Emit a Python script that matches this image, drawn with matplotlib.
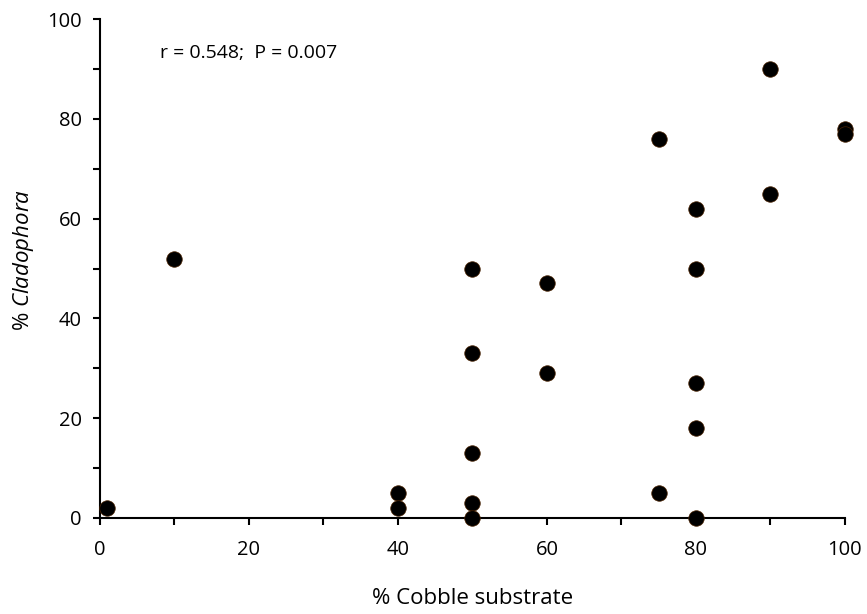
import matplotlib
matplotlib.use("Agg")
import matplotlib.pyplot as plt
from matplotlib.ticker import MultipleLocator

plt.rcParams['font.family'] = ['Open Sans', 'DejaVu Sans']
plt.rcParams['mathtext.fontset'] = 'custom'
plt.rcParams['mathtext.it'] = 'Open Sans:italic'
plt.rcParams['mathtext.rm'] = 'Open Sans'

# % cobble substrate vs % Cladophora cover
cobble = [1, 10, 40, 40, 50, 50, 50, 50, 50, 60, 60, 75, 75,
          80, 80, 80, 80, 80, 90, 90, 100, 100]
cladophora = [2, 52, 5, 2, 50, 33, 13, 3, 0, 47, 29, 76, 5,
              62, 50, 27, 18, 0, 90, 65, 78, 77]
stats_text = "r = 0.548;  P = 0.007"

fig = plt.figure(figsize=(8.67, 6.14), dpi=100)
ax = fig.add_axes([0.1153, 0.1564, 0.8593, 0.8126])

ax.scatter(cobble, cladophora, s=125, color='black', edgecolors='#4a2200',
           linewidths=0.5, zorder=3, clip_on=False)

ax.set_xlim(0, 100)
ax.set_ylim(0, 100)
ax.xaxis.set_major_locator(MultipleLocator(20))
ax.xaxis.set_minor_locator(MultipleLocator(10))
ax.yaxis.set_major_locator(MultipleLocator(20))
ax.yaxis.set_minor_locator(MultipleLocator(10))
ax.tick_params(which='both', direction='out', length=5, width=1.5, color='black')
ax.tick_params(axis='both', labelsize=14.5)
ax.tick_params(axis='x', pad=11)
ax.tick_params(axis='y', pad=8)

for side in ['top', 'right']:
    ax.spines[side].set_visible(False)
for side in ['left', 'bottom']:
    ax.spines[side].set_linewidth(1.5)

ax.set_xlabel('% Cobble substrate', fontsize=16, labelpad=20)
ax.set_ylabel(r'% $\it{Cladophora}$', fontsize=16, va='center')
ax.yaxis.set_label_coords(-0.103, 0.517)

ax.text(8.0, 93.2, stats_text, fontsize=14, ha='left', va='center')

fig.savefig('out.png', dpi=100)
